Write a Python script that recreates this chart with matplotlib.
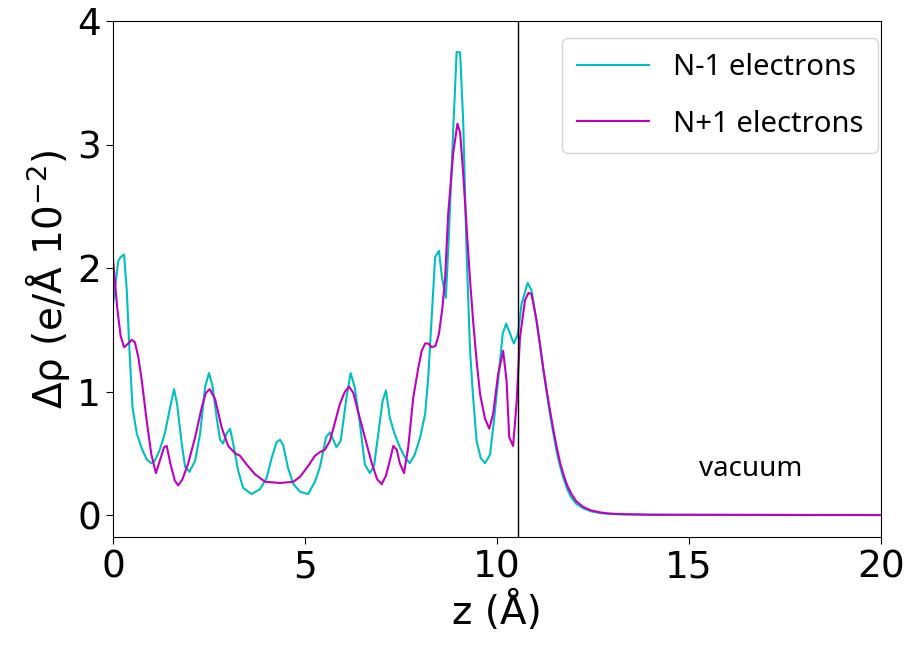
import numpy as np
import matplotlib.pyplot as plt

# N-1 electrons (cyan)
z_minus = [0.0, 0.14, 0.2, 0.29, 0.36, 0.43, 0.51, 0.62, 0.75, 0.88, 1.0, 1.09, 1.22, 1.35, 1.48,
           1.59, 1.67, 1.79, 1.88, 1.99, 2.14, 2.27, 2.4, 2.5, 2.59, 2.7, 2.79, 2.87, 2.96, 3.05,
           3.13, 3.26, 3.39, 3.61, 3.83, 4.0, 4.13, 4.26, 4.35, 4.43, 4.56, 4.7, 4.87, 5.08, 5.26,
           5.39, 5.55, 5.65, 5.82, 5.93, 6.08, 6.19, 6.3, 6.43, 6.56, 6.69, 6.8, 6.91, 7.02, 7.11,
           7.21, 7.32, 7.47, 7.6, 7.73, 7.86, 8.0, 8.13, 8.21, 8.3, 8.39, 8.49, 8.57, 8.67, 8.75,
           8.86, 8.95, 9.04, 9.12, 9.21, 9.3, 9.38, 9.47, 9.58, 9.69, 9.82, 9.92, 10.03, 10.15,
           10.24, 10.34, 10.44, 10.55, 10.64, 10.8, 10.9, 11.03, 11.12, 11.21, 11.3, 11.38, 11.47,
           11.55, 11.64, 11.73, 11.83, 11.94, 12.07, 12.25, 12.45, 12.68, 12.9, 13.2, 14.0, 20.0]
rho_minus = [1.70, 2.06, 2.09, 2.11, 1.82, 1.33, 0.87, 0.66, 0.54, 0.45, 0.42, 0.44, 0.53, 0.66, 0.86,
             1.02, 0.90, 0.58, 0.39, 0.35, 0.44, 0.66, 1.04, 1.15, 1.05, 0.79, 0.61, 0.58, 0.66, 0.70,
             0.58, 0.36, 0.22, 0.17, 0.21, 0.30, 0.46, 0.59, 0.61, 0.57, 0.38, 0.25, 0.19, 0.17, 0.27,
             0.39, 0.63, 0.67, 0.55, 0.60, 0.95, 1.15, 1.03, 0.74, 0.41, 0.34, 0.40, 0.66, 0.92, 1.01,
             0.79, 0.67, 0.55, 0.47, 0.42, 0.49, 0.63, 0.82, 1.11, 1.60, 2.09, 2.14, 1.92, 1.76, 2.28,
             3.11, 3.75, 3.75, 3.20, 2.12, 1.33, 0.95, 0.60, 0.46, 0.42, 0.49, 0.76, 1.09, 1.47,
             1.55, 1.47, 1.39, 1.47, 1.71, 1.88, 1.82, 1.57, 1.38, 1.17, 0.98, 0.82, 0.66,
             0.52, 0.40, 0.30, 0.21, 0.14, 0.09, 0.055, 0.03, 0.017, 0.01, 0.006, 0.002, 0.0]

# N+1 electrons (magenta)
z_plus = [0.0, 0.11, 0.2, 0.29, 0.4, 0.49, 0.57, 0.66, 0.75, 0.88, 1.0, 1.12, 1.22, 1.33, 1.4, 1.5,
          1.61, 1.7, 1.81, 1.96, 2.14, 2.31, 2.42, 2.52, 2.66, 2.83, 3.0, 3.18, 3.31, 3.48, 3.7,
          3.96, 4.35, 4.7, 4.87, 5.09, 5.26, 5.39, 5.52, 5.65, 5.78, 5.91, 6.04, 6.15, 6.26, 6.39,
          6.56, 6.74, 6.88, 7.0, 7.11, 7.21, 7.3, 7.39, 7.47, 7.58, 7.69, 7.82, 7.95, 8.04, 8.13,
          8.21, 8.3, 8.4, 8.49, 8.58, 8.65, 8.73, 8.86, 8.97, 9.04, 9.12, 9.21, 9.3, 9.38, 9.47,
          9.56, 9.69, 9.8, 9.9, 10.03, 10.16, 10.25, 10.32, 10.42, 10.51, 10.6, 10.73, 10.82, 10.9,
          11.03, 11.12, 11.21, 11.3, 11.38, 11.47, 11.55, 11.64, 11.73, 11.83, 11.94, 12.07, 12.25,
          12.45, 12.68, 12.9, 13.2, 14.0, 20.0]
rho_plus = [2.08, 1.68, 1.45, 1.36, 1.39, 1.42, 1.40, 1.28, 1.09, 0.76, 0.49, 0.34, 0.44, 0.55, 0.56, 0.41,
            0.28, 0.24, 0.29, 0.42, 0.63, 0.87, 0.99, 1.02, 0.94, 0.71, 0.56, 0.50, 0.48, 0.41, 0.33,
            0.27, 0.26, 0.27, 0.31, 0.40, 0.48, 0.51, 0.53, 0.60, 0.75, 0.90, 1.00, 1.04, 0.99, 0.83,
            0.63, 0.42, 0.29, 0.25, 0.32, 0.44, 0.56, 0.53, 0.42, 0.34, 0.55, 0.95, 1.19, 1.33, 1.39,
            1.39, 1.36, 1.37, 1.47, 1.68, 1.92, 2.44, 2.93, 3.17, 3.10, 2.77, 2.33, 1.90, 1.57, 1.25,
            0.98, 0.78, 0.70, 0.82, 1.14, 1.33, 1.09, 0.63, 0.56, 0.90, 1.44, 1.74, 1.80, 1.79,
            1.58, 1.38, 1.18, 1.00, 0.85, 0.69, 0.56, 0.43, 0.33, 0.24, 0.17, 0.11, 0.065,
            0.038, 0.022, 0.013, 0.008, 0.003, 0.0]

surface = 10.56  # slab edge

fig = plt.figure(figsize=(9.11, 6.45), dpi=100)
ax = fig.add_subplot(111)
fig.subplots_adjust(left=0.124, right=0.967, top=0.967, bottom=0.167)

ax.plot(z_minus, rho_minus, color='c', lw=1.5, label='N-1 electrons')
ax.plot(z_plus, rho_plus, color='m', lw=1.5, label='N+1 electrons')
ax.axvline(surface, color='black', lw=1)

ax.text(16.6, 0.37, 'vacuum', fontsize=20, family='Noto Sans', ha='center', va='center')

ax.set_xlim(0, 20)
ax.set_ylim(-0.18, 4)
ax.set_xticks([0, 5, 10, 15, 20])
ax.set_yticks([0, 1, 2, 3, 4])
ax.tick_params(labelsize=27, length=5)
ax.set_xlabel('z (Å)', fontsize=28)
ax.set_ylabel('Δρ (e/Å 10$^{-2}$)', fontsize=28)
ax.legend(loc='upper right', bbox_to_anchor=(0.996, 0.967), borderaxespad=0,
          prop={'family': 'Noto Sans', 'size': 21},
          handlelength=2.5, labelspacing=0.95, borderpad=0.5)

fig.savefig('out.png', dpi=100)
